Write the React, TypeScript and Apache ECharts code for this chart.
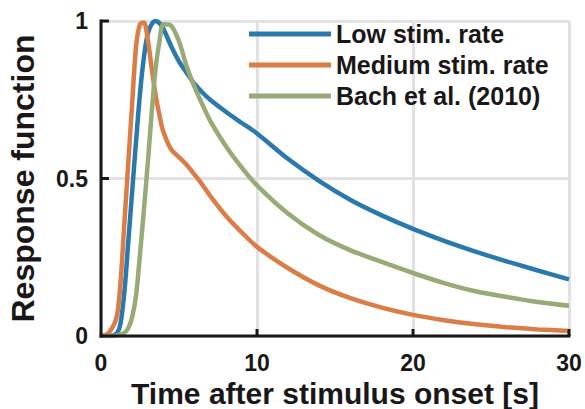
import React, { useEffect, useRef } from "react";
import * as echarts from "echarts";

const time = [0, 0.5, 1, 1.25, 1.5, 1.75, 2, 2.25, 2.5, 2.75, 3, 3.25, 3.5, 3.75, 4, 4.5, 5, 5.5, 6, 6.5, 7, 8, 9, 10, 12, 14, 16, 18, 20, 22, 24, 26, 28, 30];
const lowRate = [0, 0, 0.008, 0.04, 0.14, 0.3, 0.46, 0.62, 0.77, 0.885, 0.96, 0.99, 1.0, 0.993, 0.975, 0.92, 0.872, 0.835, 0.8, 0.773, 0.75, 0.712, 0.677, 0.643, 0.562, 0.492, 0.432, 0.383, 0.34, 0.302, 0.268, 0.237, 0.208, 0.18];
const mediumRate = [0, 0.01, 0.06, 0.17, 0.36, 0.55, 0.74, 0.92, 0.99, 0.995, 0.94, 0.85, 0.765, 0.7, 0.648, 0.592, 0.568, 0.543, 0.512, 0.48, 0.445, 0.382, 0.33, 0.283, 0.215, 0.16, 0.12, 0.09, 0.067, 0.05, 0.037, 0.028, 0.021, 0.016];
const bach = [0, 0, 0.002, 0.005, 0.01, 0.025, 0.06, 0.13, 0.26, 0.4, 0.55, 0.71, 0.85, 0.935, 0.99, 0.985, 0.935, 0.855, 0.79, 0.735, 0.683, 0.603, 0.536, 0.478, 0.388, 0.32, 0.272, 0.235, 0.2, 0.168, 0.142, 0.124, 0.108, 0.096];
const seriesNames = ["Low stim. rate", "Medium stim. rate", "Bach et al. (2010)"];
const colors = ["#2a79ad", "#db7d47", "#98aa76"];
const xTicks = [0, 10, 20, 30];
const yTicks = [0, 0.5, 1];
const xTitle = "Time after stimulus onset [s]";
const yTitle = "Response function";

const FONT = "'Liberation Sans', Arial, sans-serif";
const INK = "#1a1718";
const GRIDC = "#e2e2e4";

export default function App() {
  const ref = useRef<HTMLDivElement>(null);
  useEffect(() => {
    if (!ref.current) return;
    const chart = echarts.init(ref.current, null, { renderer: "svg" });
    const values = [lowRate, mediumRate, bach];
    const xMin = xTicks[0], xMax = xTicks[xTicks.length - 1];
    const yMin = yTicks[0], yMax = yTicks[yTicks.length - 1];

    const dataSeries = seriesNames.map((name, i) => ({
      name,
      type: "line",
      smooth: 0.3,
      showSymbol: false,
      symbol: "none",
      color: colors[i],
      lineStyle: { width: 4.5, color: colors[i] },
      data: time.map((t, j) => [t, values[i][j]]),
      z: 3,
      silent: true,
    }));

    chart.setOption({
      animation: false,
      backgroundColor: "#ffffff",
      tooltip: { show: false },
      grid: { left: 101, right: 16, top: 21, bottom: 73, containLabel: false, outerBoundsMode: "none" },
      legend: {
        left: 244,
        top: 16,
        orient: "vertical",
        icon: "rect",
        itemWidth: 82,
        itemHeight: 5,
        itemGap: 5,
        data: seriesNames,
        textStyle: { fontFamily: FONT, fontWeight: "bold", fontSize: 25, color: INK, lineHeight: 26 },
      },
      xAxis: {
        type: "value",
        min: xMin,
        max: xMax,
        interval: 10,
        name: xTitle,
        nameLocation: "middle",
        nameGap: 42,
        nameTextStyle: { fontFamily: FONT, fontWeight: "bold", fontSize: 30, color: INK },
        axisLine: { show: false },
        axisTick: { show: false },
        axisLabel: { fontFamily: FONT, fontWeight: "bold", fontSize: 23, color: INK, margin: 15 },
        splitLine: { show: true, lineStyle: { color: GRIDC, width: 3 } },
      },
      yAxis: {
        type: "value",
        min: yMin,
        max: yMax,
        interval: 0.5,
        name: yTitle,
        nameLocation: "middle",
        nameGap: 62,
        nameTextStyle: { fontFamily: FONT, fontWeight: "bold", fontSize: 32, color: INK },
        axisLine: { show: false },
        axisTick: { show: false },
        axisLabel: { fontFamily: FONT, fontWeight: "bold", fontSize: 23, color: INK, margin: 13 },
        splitLine: { show: true, lineStyle: { color: GRIDC, width: 3 } },
      },
      series: dataSeries,
    });

    // axis frame and inward ticks as filled rectangles, positioned through the chart's scales
    const px = (x: number, y: number): number[] => {
      let r: any = null;
      try {
        r = chart.convertToPixel({ gridIndex: 0 }, [x, y]);
      } catch (e) {
        r = null;
      }
      if (Array.isArray(r) && isFinite(r[0]) && isFinite(r[1])) return [Number(r[0]), Number(r[1])];
      return [101 + ((x - xMin) / (xMax - xMin)) * 468, 336 - ((y - yMin) / (yMax - yMin)) * 315];
    };
    const o = px(xMin, yMin);
    const xe = px(xMax, yMin);
    const yt = px(xMin, yMax);
    const W = 3;
    const rects: any[] = [];
    rects.push({ type: "rect", z: 100, silent: true, shape: { x: o[0] - W / 2, y: o[1] - W / 2, width: xe[0] - o[0] + W, height: W }, style: { fill: INK } });
    rects.push({ type: "rect", z: 100, silent: true, shape: { x: o[0] - W / 2, y: yt[1] - W / 2, width: W, height: o[1] - yt[1] + W }, style: { fill: INK } });
    xTicks.slice(1).forEach((v) => {
      const p = px(v, yMin);
      rects.push({ type: "rect", z: 100, silent: true, shape: { x: p[0] - W / 2, y: p[1] - 7, width: W, height: 7 }, style: { fill: INK } });
    });
    yTicks.slice(1).forEach((v) => {
      const p = px(xMin, v);
      rects.push({ type: "rect", z: 100, silent: true, shape: { x: p[0], y: p[1] - W / 2, width: 8, height: W }, style: { fill: INK } });
    });
    chart.setOption({ graphic: rects });
    return () => chart.dispose();
  }, []);
  return <div ref={ref} style={{ width: 585, height: 409, position: "absolute", left: 0, top: 0 }} />;
}
